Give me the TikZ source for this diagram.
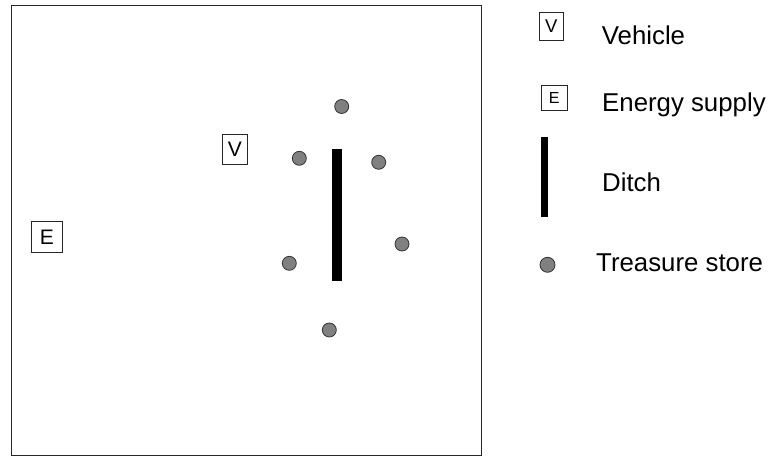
\documentclass[tikz,border=0pt]{standalone}
\usepackage{fontspec}
\setmainfont{Liberation Sans}
\begin{document}
\begin{tikzpicture}[x=1pt,y=-1pt,
  box/.style={draw=black!85,line width=0.9pt,fill=white,rectangle,inner sep=0pt,font=\fontsize{21}{21}\selectfont},
  lbox/.style={draw=black!85,line width=0.9pt,fill=white,rectangle,inner sep=0pt},
  store/.style={circle,draw=black!80,line width=0.8pt,fill=black!50,inner sep=0pt,minimum size=14pt},
  ditch/.style={rectangle,fill=black,inner sep=0pt},
  label/.style={anchor=base west,inner sep=0pt,font=\fontsize{25.8}{25.8}\selectfont}]
\useasboundingbox (0,0) rectangle (770,457);
\fill[white] (0,0) rectangle (770,457);
% field
\draw[line width=1.2pt,draw=black!85] (11.3,5.5) rectangle (481.7,455.3);
\node[box,minimum width=25.5pt,minimum height=30.5pt] (veh) at (234.8,149.5) {V};
\node[box,minimum width=31pt,minimum height=30.5pt] (ene) at (46.8,237) {E};
\node[ditch,minimum width=10pt,minimum height=132pt] (ditch) at (337,215) {};
\node[store] (s1) at (341.7,106.5) {};
\node[store] (s2) at (299.3,158.3) {};
\node[store] (s3) at (378.7,162.3) {};
\node[store] (s4) at (402,244) {};
\node[store] (s5) at (289.3,263.3) {};
\node[store] (s6) at (329.3,330) {};
% legend
\node[lbox,minimum width=24.3pt,minimum height=28.4pt,font=\fontsize{18.5}{18.5}\selectfont] (lv) at (551.2,26.5) {V};
\node[label] (tv) at (601.7,44.3) {Vehicle};
\node[lbox,minimum width=25.5pt,minimum height=25.5pt,font=\fontsize{16}{16}\selectfont] (le) at (554.2,97.8) {E};
\node[label] (te) at (602,111.7) {Energy supply};
\node[ditch,minimum width=7pt,minimum height=80pt] (ld) at (544.5,177.3) {};
\node[label] (td) at (602,191.7) {Ditch};
\node[store,minimum size=15pt] (ls) at (547.5,264.8) {};
\node[label] (ts) at (596,271.7) {Treasure store};
\end{tikzpicture}
\end{document}
